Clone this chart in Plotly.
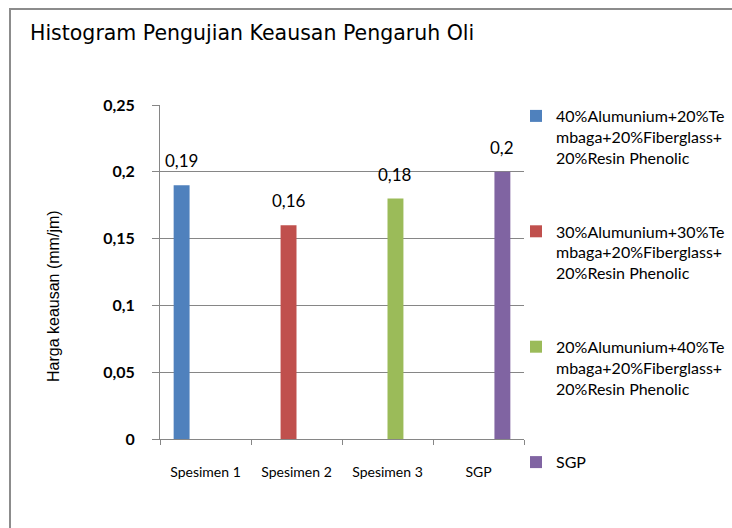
import plotly.graph_objects as go

categories = ["Spesimen 1", "Spesimen 2", "Spesimen 3", "SGP"]
series_names = [
    "40%Alumunium+20%Te<br>mbaga+20%Fiberglass+<br>20%Resin Phenolic",
    "30%Alumunium+30%Te<br>mbaga+20%Fiberglass+<br>20%Resin Phenolic",
    "20%Alumunium+40%Te<br>mbaga+20%Fiberglass+<br>20%Resin Phenolic",
    "SGP",
]
values = [0.19, 0.16, 0.18, 0.2]
value_labels = ["0,19", "0,16", "0,18", "0,2"]
colors = ["#4F81BD", "#C0504D", "#9BBB59", "#8064A2"]
y_ticks = [0, 0.05, 0.1, 0.15, 0.2, 0.25]

L, R, T, B = 160, 208, 105, 89
W, H = 732, 528
pw, ph = W - L - R, H - T - B
BARGAP = 0.3
n = len(series_names)
cat_w = pw / len(categories)
slot_w = cat_w * (1 - BARGAP) / n


def px(x):
    return (x - L) / pw


def py(y):
    return (H - B - y) / ph


fig = go.Figure()
annotations = []
for i, (name, v, c) in enumerate(zip(series_names, values, colors)):
    ys = [v if j == i else None for j in range(len(categories))]
    fig.add_trace(go.Bar(
        x=categories, y=ys, name=name, marker=dict(color=c, line=dict(width=0)),
        legendgroup=f"g{i}",
    ))
    annotations.append(dict(
        x=categories[i], y=v, xref="x", yref="y",
        text=value_labels[i], showarrow=False,
        xanchor="center", yanchor="bottom",
        xshift=(i - (n - 1) / 2) * slot_w, yshift=12,
        font=dict(family="Lato", size=17, color="#000"),
    ))

annotations.append(dict(
    text="Harga keausan (mm/jm)", textangle=-90,
    xref="paper", yref="paper", x=px(53), y=py(296),
    xanchor="center", yanchor="middle", showarrow=False,
    font=dict(family="Liberation Sans", size=16, color="#000"),
))

fig.update_layout(
    width=W, height=H,
    margin=dict(l=L, r=R, t=T, b=B, autoexpand=False),
    paper_bgcolor="white", plot_bgcolor="white",
    barmode="group", bargap=BARGAP, bargroupgap=0,
    separators=",.",
    showlegend=True,
    legend=dict(
        x=px(516), y=py(99), xanchor="left", yanchor="top",
        font=dict(family="Lato", size=16, color="#000"),
        tracegroupgap=50, itemwidth=30, valign="top",
        bgcolor="rgba(0,0,0,0)", maxheight=520,
    ),
    font=dict(family="Lato", color="#000"),
    title=dict(
        text="Histogram Pengujian Keausan Pengaruh Oli",
        x=30 / W, xanchor="left",
        y=1 - 33 / H, yanchor="middle",
        font=dict(family="DejaVu Sans", size=20.5, color="#000"),
    ),
    xaxis=dict(
        showgrid=False, showline=True, linecolor="#868686", linewidth=1,
        ticks="outside", tickson="boundaries", ticklen=5, tickcolor="#868686",
        tickfont=dict(family="Lato", size=14, color="#000"),
        ticklabelstandoff=20,
    ),
    yaxis=dict(
        range=[0, 0.25], tickvals=y_ticks,
        showgrid=True, gridcolor="#868686", gridwidth=1,
        showline=True, linecolor="#868686", linewidth=1,
        ticks="outside", ticklen=7, tickcolor="#868686",
        tickfont=dict(family="Lato", size=16, color="#000", weight="bold"),
        ticklabelstandoff=14, zeroline=False,
    ),
    annotations=annotations,
    shapes=[dict(
        type="rect", xref="paper", yref="paper",
        x0=px(10), x1=px(760), y0=py(560), y1=py(9),
        line=dict(color="#8c8c8c", width=2), fillcolor="rgba(0,0,0,0)",
        layer="below",
    )],
)

fig.write_html("out.html", config={"displayModeBar": False},
               post_script="document.body.style.margin='0';")
